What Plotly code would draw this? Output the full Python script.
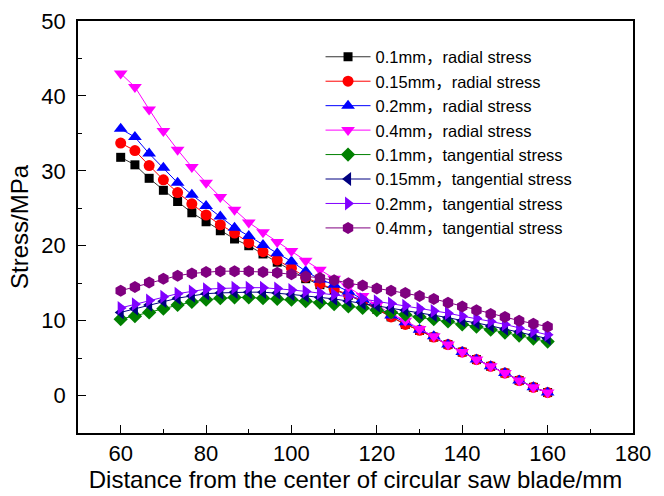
import plotly.graph_objects as go

# Distance from blade centre (mm), 31 stations from 60 to 160
distance = [60 + i * 10 / 3 for i in range(31)]

# Radial stress (MPa) for each clamping-gap setting
radial_01 = [31.8, 30.8, 29.0, 27.4, 25.9, 24.4, 23.2, 22.0, 20.9, 20.0, 18.9,
             17.8, 16.8, 15.6, 14.8, 14.1, 13.4, 12.5, 11.5, 10.5, 9.5, 8.7,
             7.8, 6.8, 5.8, 4.8, 3.9, 3.0, 2.0, 1.1, 0.4]
radial_015 = [33.7, 32.7, 30.7, 28.8, 27.1, 25.6, 24.1, 22.8, 21.7, 20.4, 19.2,
              18.1, 17.0, 15.8, 14.9, 14.2, 13.5, 12.6, 11.6, 10.5, 9.5, 8.7,
              7.8, 6.8, 5.8, 4.8, 3.9, 3.0, 2.0, 1.1, 0.4]
radial_02 = [35.6, 34.5, 32.3, 30.4, 28.4, 26.8, 25.3, 23.9, 22.4, 21.3, 20.1,
             19.0, 17.9, 16.6, 15.5, 14.8, 13.9, 12.9, 11.8, 10.7, 9.8, 8.8,
             7.9, 6.8, 5.8, 4.8, 3.9, 3.0, 2.0, 1.1, 0.4]
radial_04 = [43.0, 41.2, 38.2, 35.3, 32.8, 30.5, 28.4, 26.5, 24.8, 23.1, 21.8,
             20.5, 19.3, 18.0, 16.8, 15.6, 14.5, 13.3, 12.1, 10.9, 10.0, 8.9,
             7.9, 6.8, 5.8, 4.8, 3.9, 3.0, 2.0, 1.1, 0.4]

# Tangential stress (MPa)
tangential_01 = [10.2, 10.6, 11.1, 11.6, 12.1, 12.5, 12.8, 13.0, 13.1, 13.1, 13.0,
                 12.9, 12.8, 12.6, 12.4, 12.2, 11.9, 11.7, 11.4, 11.1, 10.8, 10.5,
                 10.2, 9.9, 9.5, 9.2, 8.8, 8.4, 8.0, 7.6, 7.2]
tangential_015 = [11.1, 11.6, 12.1, 12.6, 13.0, 13.3, 13.6, 13.7, 13.8, 13.8, 13.8,
                  13.7, 13.5, 13.3, 13.1, 12.9, 12.6, 12.3, 12.0, 11.7, 11.4, 11.0,
                  10.7, 10.4, 10.0, 9.7, 9.3, 8.9, 8.5, 8.1, 7.6]
tangential_02 = [11.7, 12.2, 12.7, 13.2, 13.6, 13.9, 14.2, 14.3, 14.4, 14.4, 14.4,
                 14.3, 14.1, 13.9, 13.7, 13.5, 13.2, 12.9, 12.6, 12.3, 12.0, 11.6,
                 11.3, 11.0, 10.6, 10.3, 9.9, 9.5, 9.0, 8.6, 8.1]
tangential_04 = [14.0, 14.5, 15.1, 15.6, 16.0, 16.3, 16.5, 16.6, 16.6, 16.6, 16.5,
                 16.4, 16.2, 15.9, 15.7, 15.4, 15.0, 14.7, 14.3, 14.0, 13.7, 13.3,
                 12.9, 12.4, 11.9, 11.4, 10.9, 10.5, 10.0, 9.6, 9.2]

series = [
    ("0.1mm，radial stress", radial_01, "#000000", "#333333", "square", 9),
    ("0.15mm，radial stress", radial_015, "#ff0000", "#ff0000", "circle", 11),
    ("0.2mm，radial stress", radial_02, "#0000ff", "#0000ff", "triangle-up", 12),
    ("0.4mm，radial stress", radial_04, "#ff00ff", "#ff00ff", "triangle-down", 12),
    ("0.1mm，tangential stress", tangential_01, "#008000", "#008000", "diamond", 11),
    ("0.15mm，tangential stress", tangential_015, "#000080", "#000080", "triangle-left", 12),
    ("0.2mm，tangential stress", tangential_02, "#8000ff", "#8000ff", "triangle-right", 12),
    ("0.4mm，tangential stress", tangential_04, "#800080", "#800080", "hexagon", 12),
]

fig = go.Figure()
for name, vals, mcol, lcol, sym, size in series:
    fig.add_trace(go.Scatter(
        x=distance, y=vals, name=name, mode="lines+markers",
        line=dict(color=lcol, width=1),
        marker=dict(symbol=sym, size=size, color=mcol, line=dict(width=0)),
    ))

font_family = "Liberation Sans, Arial, Noto Sans CJK SC, sans-serif"

axis_common = dict(
    showline=True, linecolor="black", linewidth=1.5, mirror=True,
    ticks="inside", ticklen=8, tickwidth=1.2, tickcolor="black",
    showgrid=False, zeroline=False, automargin=False,
    tickfont=dict(family=font_family, size=22, color="black"),
)

fig.update_xaxes(
    range=[50, 180], tickvals=[60, 80, 100, 120, 140, 160, 180],
    minor=dict(ticks="inside", ticklen=4, tickwidth=1.2, tickcolor="black",
               dtick=10, tick0=50),
    title=dict(text="Distance from the center of circular saw blade/mm",
               font=dict(family=font_family, size=24, color="black"), standoff=4),
    ticklabelstandoff=0,
    **axis_common,
)
fig.update_yaxes(
    range=[-5, 50], tickvals=[0, 10, 20, 30, 40, 50],
    minor=dict(ticks="inside", ticklen=4, tickwidth=1.2, tickcolor="black",
               dtick=5, tick0=0),
    title=dict(text="Stress/MPa",
               font=dict(family=font_family, size=24, color="black"), standoff=6),
    ticklabelstandoff=6,
    **axis_common,
)

fig.update_layout(
    width=664, height=496,
    margin=dict(l=78, r=31, t=21, b=63),
    paper_bgcolor="white", plot_bgcolor="white",
    showlegend=True,
    legend=dict(
        x=0.437, y=0.955, xanchor="left", yanchor="top",
        bgcolor="rgba(0,0,0,0)", borderwidth=0,
        font=dict(family=font_family, size=16.5, color="black"),
        itemwidth=45, tracegroupgap=0,
    ),
)

fig.write_html("out.html")
